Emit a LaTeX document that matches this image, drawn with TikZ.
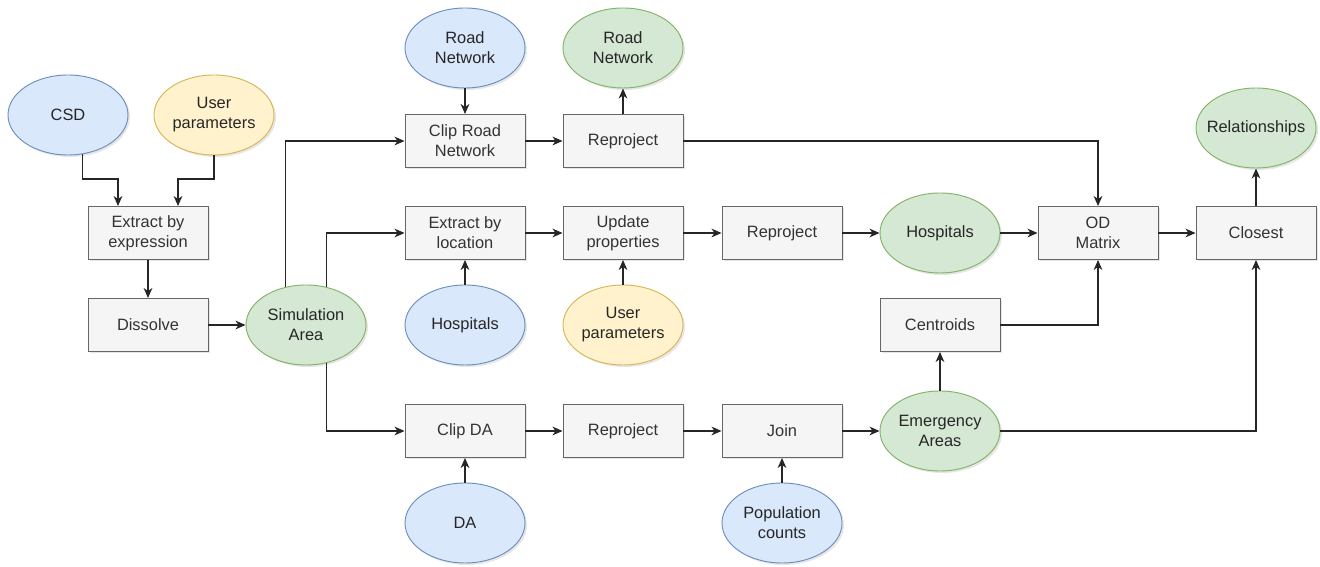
\documentclass[tikz,border=0pt]{standalone}
\usepackage{fontspec}
\setmainfont{Liberation Sans}
\usetikzlibrary{shapes.geometric,arrows.meta,shadows,calc}
\definecolor{boxfill}{HTML}{F5F5F5}
\definecolor{boxline}{HTML}{666666}
\definecolor{boxtext}{HTML}{333333}
\definecolor{srcfill}{HTML}{DAE8FC}
\definecolor{srcline}{HTML}{6C8EBF}
\definecolor{userfill}{HTML}{FFF2CC}
\definecolor{userline}{HTML}{D6B656}
\definecolor{resfill}{HTML}{D5E8D4}
\definecolor{resline}{HTML}{82B366}
\begin{document}
\begin{tikzpicture}[
    font=\fontsize{14}{17}\selectfont,
    shade/.style={drop shadow={shadow xshift=0.06cm,shadow yshift=-0.06cm,opacity=0.2}},
    proc/.style={draw=boxline,fill=boxfill,text=boxtext,line width=0.8pt,minimum width=3.6cm,minimum height=1.59cm,inner sep=0pt,align=center,shade},
    data/.style={ellipse,line width=0.8pt,minimum width=3.6cm,minimum height=2.4cm,inner xsep=-0.4cm,inner ysep=0pt,align=center,text=black!85,shade},
    srcdata/.style={data,draw=srcline,fill=srcfill},
    userdata/.style={data,draw=userline,fill=userfill},
    resdata/.style={data,draw=resline,fill=resfill},
    flow/.style={line width=1.2pt,black!85,-{Stealth[length=3mm,width=2.6mm,inset=0.9mm]}}
]

% \draw[step=1cm,gray,very thin] (0,0) grid (39.6,17);
        \useasboundingbox (0,0) rectangle (39.6,17.01);

        \node (csd) [srcdata,xshift=2.04cm,yshift=13.56cm] {CSD};
        \node (usertop) [userdata,xshift=6.42cm,yshift=13.56cm] {User\\parameters};
        \node (exexpr) [proc,xshift=4.44cm,yshift=10.02cm] {Extract by\\expression};
        \node (dissolve) [proc,xshift=4.44cm,yshift=7.26cm] {Dissolve};
        \node (simarea) [resdata,xshift=9.18cm,yshift=7.26cm] {Simulation\\Area};

        \node (roadin) [srcdata,xshift=13.95cm,yshift=15.57cm] {Road\\Network};
        \node (roadout) [resdata,xshift=18.69cm,yshift=15.57cm] {Road\\Network};
        \node (cliproad) [proc,xshift=13.95cm,yshift=12.78cm] {Clip Road\\Network};
        \node (reproad) [proc,xshift=18.69cm,yshift=12.78cm] {Reproject};

        \node (exloc) [proc,xshift=13.95cm,yshift=10.02cm] {Extract by\\location};
        \node (update) [proc,xshift=18.69cm,yshift=10.02cm] {Update\\properties};
        \node (rephosp) [proc,xshift=23.46cm,yshift=10.02cm] {Reproject};
        \node (hospout) [resdata,xshift=28.2cm,yshift=10.02cm] {Hospitals};
        \node (odmatrix) [proc,xshift=32.94cm,yshift=10.02cm] {OD\\Matrix};
        \node (closest) [proc,xshift=37.68cm,yshift=10.02cm] {Closest};
        \node (relation) [resdata,xshift=37.68cm,yshift=13.17cm] {Relationships};

        \node (hospin) [srcdata,xshift=13.95cm,yshift=7.26cm] {Hospitals};
        \node (usermid) [userdata,xshift=18.69cm,yshift=7.26cm] {User\\parameters};
        \node (centroid) [proc,xshift=28.2cm,yshift=7.26cm] {Centroids};

        \node (clipda) [proc,xshift=13.95cm,yshift=4.08cm] {Clip DA};
        \node (repda) [proc,xshift=18.69cm,yshift=4.08cm] {Reproject};
        \node (join) [proc,xshift=23.46cm,yshift=4.08cm] {Join};
        \node (emerg) [resdata,xshift=28.2cm,yshift=4.08cm] {Emergency\\Areas};
        \node (da) [srcdata,xshift=13.95cm,yshift=1.32cm] {DA};
        \node (popcount) [srcdata,xshift=23.46cm,yshift=1.32cm] {Population\\counts};

        \draw [flow] (csd.-70) -- (csd.-70 |- 0,11.64) -| ($(exexpr.north)+(-0.9,0)$);
        \draw [flow] (usertop.south) -- (usertop.south |- 0,11.64) -| ($(exexpr.north)+(0.9,0)$);
        \draw [flow] (exexpr) -- (dissolve);
        \draw [flow] (dissolve) -- (simarea);
        \draw [flow] (simarea.118) |- (cliproad.west);
        \draw [flow] (simarea.62) |- (exloc.west);
        \draw [flow] (simarea.-62) |- (clipda.west);

        \draw [flow] (roadin) -- (cliproad);
        \draw [flow] (cliproad) -- (reproad);
        \draw [flow] (reproad) -- (roadout);
        \draw [flow] (reproad.east) -| (odmatrix.north);

        \draw [flow] (exloc) -- (update);
        \draw [flow] (update) -- (rephosp);
        \draw [flow] (rephosp) -- (hospout);
        \draw [flow] (hospout) -- (odmatrix);
        \draw [flow] (odmatrix) -- (closest);
        \draw [flow] (closest) -- (relation);
        \draw [flow] (hospin) -- (exloc);
        \draw [flow] (usermid) -- (update);
        \draw [flow] (centroid.east) -| (odmatrix.south);

        \draw [flow] (clipda) -- (repda);
        \draw [flow] (repda) -- (join);
        \draw [flow] (join) -- (emerg);
        \draw [flow] (da) -- (clipda);
        \draw [flow] (popcount) -- (join);
        \draw [flow] (emerg) -- (centroid);
        \draw [flow] (emerg.east) -| (closest.south);

    \end{tikzpicture}
\end{document}
